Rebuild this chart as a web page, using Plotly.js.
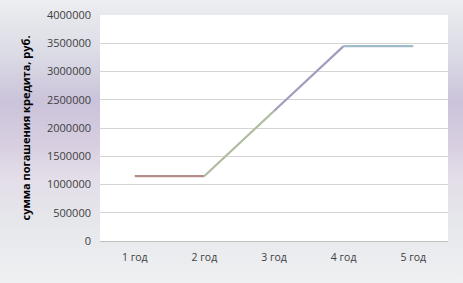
<!DOCTYPE html>
<html>
<head>
<meta charset="utf-8">
<script src="https://cdn.plot.ly/plotly-3.0.1.min.js"></script>
<style>
html,body{margin:0;padding:0;}
#chart{width:463px;height:283px;
background:linear-gradient(to bottom,#eceef1 0%,#dcdce6 18%,#cbc3da 36%,#d6cde0 50%,#e3dde8 62%,#e6e8ec 80%,#eef0f2 100%);}
</style>
</head>
<body>
<div id="chart"></div>
<script>
var categories = ["1 год","2 год","3 год","4 год","5 год"];
var values = [1150000, 1150000, 2300000, 3450000, 3450000];
var segmentColors = ["#b48c8a","#afbb9f","#a39cbc","#9fbccb"];
var yTicks = [0,500000,1000000,1500000,2000000,2500000,3000000,3500000,4000000];

var traces = [];
for (var i = 0; i < categories.length - 1; i++) {
  traces.push({
    x: [i, i + 1],
    y: [values[i], values[i + 1]],
    type: "scatter",
    mode: "lines",
    line: {color: segmentColors[i], width: 2.2},
    hoverinfo: "skip",
    showlegend: false
  });
}

var layout = {
  width: 463, height: 283,
  margin: {l: 100, r: 15, t: 15, b: 42},
  paper_bgcolor: "rgba(0,0,0,0)",
  plot_bgcolor: "#ffffff",
  font: {family: "Open Sans, sans-serif", color: "#404040"},
  xaxis: {
    range: [-0.5, 4.5],
    tickmode: "array",
    tickvals: categories.map(function(c, i){return i;}),
    ticktext: categories,
    showgrid: false,
    zeroline: false,
    showline: true,
    linecolor: "#c0c0c0",
    linewidth: 1,
    ticks: "",
    tickfont: {size: 10.5, color: "#404040"},
    ticklabelstandoff: 6
  },
  yaxis: {
    range: [0, 4000000],
    tickmode: "array",
    tickvals: yTicks,
    ticktext: yTicks.map(String),
    showgrid: true,
    gridcolor: "#d4d4d4",
    gridwidth: 1,
    zeroline: false,
    showline: false,
    ticks: "",
    tickfont: {size: 11, color: "#404040"},
    ticklabelstandoff: 8,
    title: {text: "сумма погашения кредита, руб.", font: {size: 11, color: "#000000", weight: "bold"}, standoff: 14}
  }
};

Plotly.newPlot("chart", traces, layout, {displayModeBar: false, staticPlot: true});
</script>
</body>
</html>
